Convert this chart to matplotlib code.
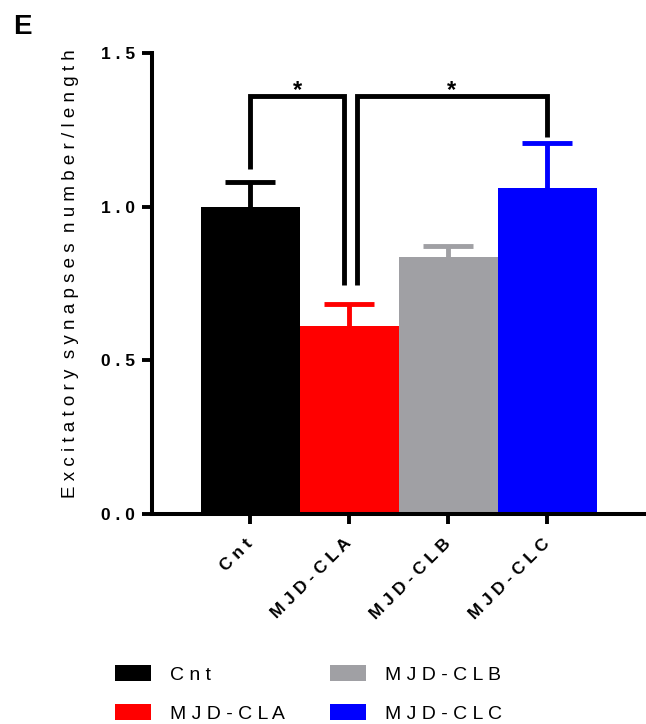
import matplotlib
matplotlib.use("Agg")
import matplotlib.pyplot as plt
from matplotlib.patches import Patch

plt.rcParams['font.family'] = ['Liberation Sans', 'DejaVu Sans']

groups = ["Cnt", "MJD-CLA", "MJD-CLB", "MJD-CLC"]
means = [1.00, 0.612, 0.836, 1.061]
sems = [0.081, 0.072, 0.036, 0.146]
colors = ["#000000", "#ff0000", "#a0a0a4", "#0000ff"]
yticks = [0.0, 0.5, 1.0, 1.5]
ylabel = "Excitatory synapses number/length"
sig_pairs = [(0, 1, "*"), (1, 3, "*")]


def spaced(s, sep=" ", wordsep="  "):
    return wordsep.join(sep.join(w) for w in s.split(" "))


fig = plt.figure(figsize=(6.46, 7.24), dpi=100)
ax = fig.add_axes([152 / 646, 1 - 514 / 724, (646 - 152) / 646, (514 - 53) / 724])

x = list(range(len(groups)))
bar_w = 1.0
cap_w = 0.5
ax.bar(x, means, width=bar_w, color=colors, zorder=2)
ax.vlines(x, means, [m + e for m, e in zip(means, sems)], colors=colors, lw=3.5, zorder=3)
ax.hlines([m + e for m, e in zip(means, sems)], [xi - cap_w / 2 for xi in x],
          [xi + cap_w / 2 for xi in x], colors=colors, lw=3.5, zorder=3)

ax.set_xlim(-0.99, 4.0)
ax.set_ylim(0, 1.5)
ax.set_yticks(yticks)
ax.set_yticklabels([spaced(f"{t:.1f}") for t in yticks], fontweight="bold", fontsize=12.5)
ax.set_xticks(x)
ax.set_xticklabels([spaced(g) for g in groups], rotation=45, ha="right",
                   va="center", rotation_mode="anchor", fontweight="bold", fontsize=12.5)
ax.tick_params(axis="both", width=2.8, length=7.5, direction="out")
ax.tick_params(axis="x", pad=12)
ax.tick_params(axis="y", pad=5)
for s in ["top", "right"]:
    ax.spines[s].set_visible(False)
for s in ["left", "bottom"]:
    ax.spines[s].set_linewidth(2.9)
ax.set_ylabel(spaced(ylabel), fontsize=13.5)
ax.yaxis.set_label_coords(-0.148, 0.522)

# significance brackets
bh = 1.36
lw = 3.5
a, b, star = sig_pairs[0]
xa, xb = a, b - 0.05
ax.plot([xa, xa, xb, xb], [means[a] + sems[a] + 0.042, bh, bh, 0.745],
        color="black", lw=lw, solid_joinstyle="miter", solid_capstyle="butt", zorder=4)
ax.text((xa + xb) / 2, bh - 0.02, star, ha="center", va="bottom",
        fontsize=17, fontweight="bold")
a, b, star = sig_pairs[1]
xa, xb = a + 0.077, b
ax.plot([xa, xa, xb, xb], [0.745, bh, bh, means[b] + sems[b] + 0.02],
        color="black", lw=lw, solid_joinstyle="miter", solid_capstyle="butt", zorder=4)
ax.text((xa + xb) / 2, bh - 0.02, star, ha="center", va="bottom",
        fontsize=17, fontweight="bold")

fig.text(13 / 646, 1 - 34 / 724, "E", fontsize=20, fontweight="bold")

fs = 14
handles = [Patch(facecolor=c, edgecolor="none", label=spaced(g)) for g, c in zip(groups, colors)]
fig.legend(handles=handles, ncol=2, loc="upper left", bbox_to_anchor=(115 / 646, 1 - 665 / 724),
           frameon=False, fontsize=fs, handlelength=1.85, handleheight=0.88,
           handletextpad=1.0, columnspacing=2.3, labelspacing=1.05,
           borderpad=0, borderaxespad=0)

fig.savefig("out.png", dpi=100)
